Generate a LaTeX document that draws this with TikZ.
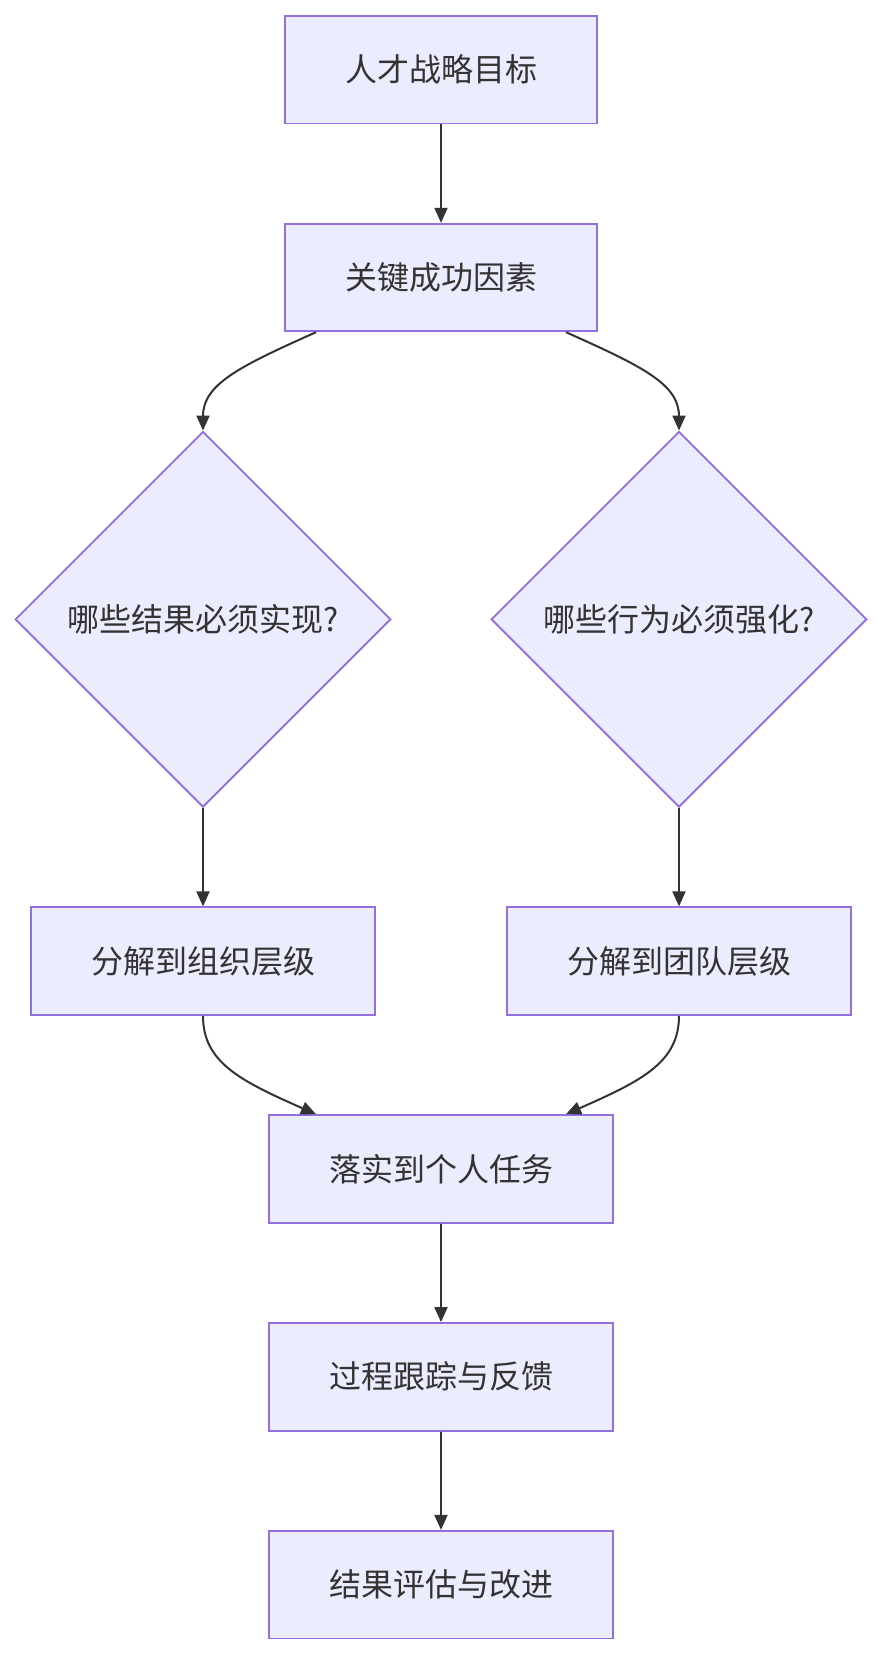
\documentclass[tikz,border=0pt]{standalone}
\usepackage{fontspec}
\setmainfont{Noto Sans CJK SC}
\usetikzlibrary{shapes.geometric, arrows.meta}
\definecolor{boxfill}{HTML}{ECECFF}
\definecolor{boxline}{HTML}{9370DB}
\definecolor{inkgray}{HTML}{333333}

\begin{document}
\begin{tikzpicture}[x=1pt, y=1pt, >={Triangle[length=15pt,width=13pt]},
  every node/.style={text=inkgray, font=\fontsize{32}{38}\selectfont},
  stepbox/.style={draw=boxline, fill=boxfill, line width=1.8pt,
    minimum height=107.6pt, inner sep=0pt},
  askbox/.style={diamond, draw=boxline, fill=boxfill, line width=1.8pt,
    minimum width=375.6pt, minimum height=375.6pt, inner sep=0pt},
  flow/.style={->, draw=inkgray, line width=2pt}]
  \useasboundingbox (0,0) rectangle (883,-1655);
  % main column
  \node[stepbox, minimum width=312pt] (goal) at (441,-69.6) {人才战略目标};
  \node[stepbox, minimum width=312pt] (factor) at (441,-277.5) {关键成功因素};
  % two questions
  \node[askbox] (askres) at (203,-619.3) {哪些结果必须实现?};
  \node[askbox] (askact) at (679,-619.3) {哪些行为必须强化?};
  \node[stepbox, minimum width=344pt] (orglvl) at (203,-961.1) {分解到组织层级};
  \node[stepbox, minimum width=344pt] (teamlvl) at (679,-961.1) {分解到团队层级};
  % back to one column
  \node[stepbox, minimum width=344pt] (task) at (441,-1168.9) {落实到个人任务};
  \node[stepbox, minimum width=344pt] (track) at (441,-1376.8) {过程跟踪与反馈};
  \node[stepbox, minimum width=344pt] (review) at (441,-1584.6) {结果评估与改进};

  \draw[flow] (goal) -- (factor);
  \draw[flow] ([xshift=-125pt]factor.south) .. controls +(-76,-34) and +(0,46.5) .. (askres.north);
  \draw[flow] ([xshift=125pt]factor.south) .. controls +(76,-34) and +(0,46.5) .. (askact.north);
  \draw[flow] (askres) -- (orglvl);
  \draw[flow] (askact) -- (teamlvl);
  \draw[flow] (orglvl.south) .. controls +(0,-46.5) and +(-76,33.5) .. ([xshift=-125pt]task.north);
  \draw[flow] (teamlvl.south) .. controls +(0,-46.5) and +(76,33.5) .. ([xshift=125pt]task.north);
  \draw[flow] (task) -- (track);
  \draw[flow] (track) -- (review);
\end{tikzpicture}
\end{document}
